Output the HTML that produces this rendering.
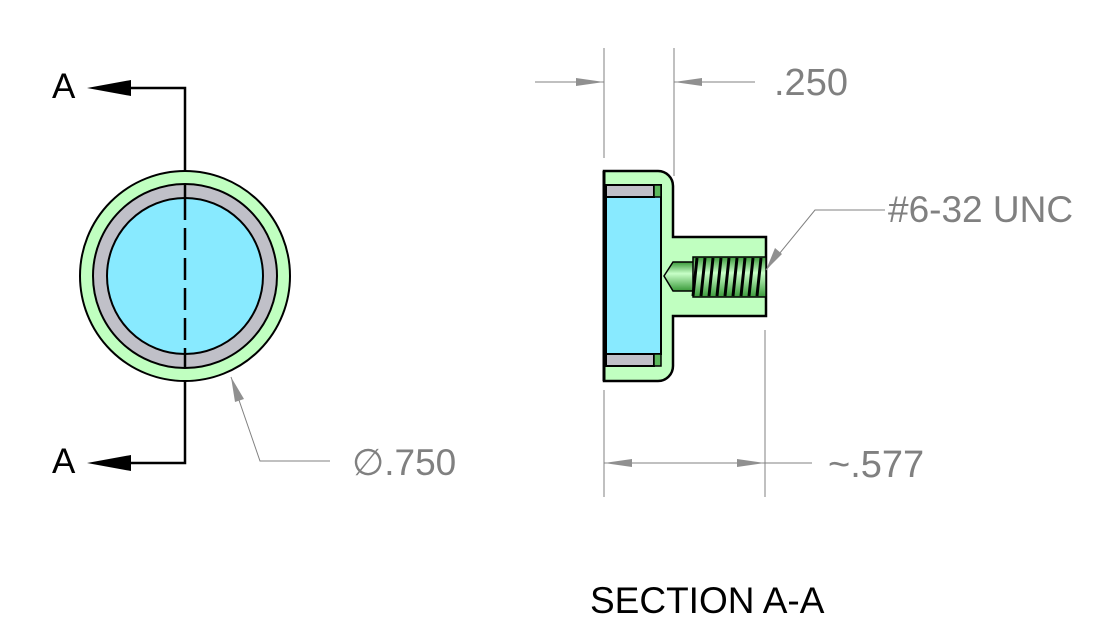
<!DOCTYPE html>
<html><head><style>
html,body{margin:0;padding:0;background:#fff;}
svg{display:block;}
text{font-family:"Liberation Sans",sans-serif;}
</style></head><body>
<svg width="1101" height="644" viewBox="0 0 1101 644" xmlns="http://www.w3.org/2000/svg">
<!-- Left view -->
<circle cx="185" cy="276" r="105" fill="#c0ffc0" stroke="#000" stroke-width="2"/>
<circle cx="185" cy="276" r="92" fill="#c0c0c8" stroke="#000" stroke-width="2"/>
<circle cx="185" cy="276" r="78" fill="#88eaff" stroke="#000" stroke-width="2"/>
<line x1="185" y1="184" x2="185" y2="198" stroke="#000" stroke-width="2.5"/>
<line x1="185" y1="354" x2="185" y2="368" stroke="#000" stroke-width="2.5"/>
<line x1="185" y1="198" x2="185" y2="354" stroke="#000" stroke-width="2.5" stroke-dasharray="22,8"/>
<polyline points="185,171 185,88 120,88" fill="none" stroke="#000" stroke-width="2.5"/>
<polygon points="87,88 131,80 131,96" fill="#000"/>
<polyline points="185,381 185,463 120,463" fill="none" stroke="#000" stroke-width="2.5"/>
<polygon points="87,463 131,455 131,471" fill="#000"/>
<text x="52" y="98" font-size="35">A</text>
<text x="52" y="473" font-size="35">A</text>
<!-- diameter leader -->
<polyline points="231,377 260,461 330,461" fill="none" stroke="#808080" stroke-width="1"/>
<polygon points="231,377 244,399 235,402" fill="#909090"/>
<text x="352" y="475" font-size="37" fill="#808080">∅.750</text>

<!-- Section view -->
<path d="M604,171 H658 A15,15 0 0 1 673,186 V237 H766 V316 H673 V366 A15,15 0 0 1 658,381 H604 Z" fill="#c0ffc0" stroke="#000" stroke-width="2.5"/>
<rect x="606" y="185" width="55" height="169" fill="#88eaff" stroke="#000" stroke-width="2"/>
<rect x="606" y="185" width="48" height="12" fill="#c0c0c8" stroke="#000" stroke-width="2"/>
<rect x="606" y="354" width="48" height="12" fill="#c0c0c8" stroke="#000" stroke-width="2"/>
<rect x="654" y="185" width="7" height="12" fill="#5cb85c" stroke="#000" stroke-width="1.5"/>
<rect x="654" y="354" width="7" height="12" fill="#5cb85c" stroke="#000" stroke-width="1.5"/>
<line x1="604" y1="171" x2="604" y2="381" stroke="#000" stroke-width="3"/>
<!-- thread -->
<defs><linearGradient id="g" x1="0" y1="0" x2="0" y2="1"><stop offset="0" stop-color="#3a9a3a"/><stop offset="0.4" stop-color="#c8ffc8"/><stop offset="1" stop-color="#3a9a3a"/></linearGradient></defs>
<path d="M664,276 L673,262 H766 V291 H673 Z" fill="url(#g)" stroke="#000" stroke-width="1.5"/>
<rect x="693" y="257" width="73" height="40" fill="url(#g)" stroke="#000" stroke-width="1.5"/>
<g stroke="#000" stroke-width="3" fill="none">
<path d="M697,258 L693,296"/><path d="M705,258 L701,296"/><path d="M713,258 L709,296"/><path d="M721,258 L717,296"/><path d="M729,258 L725,296"/><path d="M737,258 L733,296"/><path d="M745,258 L741,296"/><path d="M753,258 L749,296"/><path d="M761,258 L757,296"/>
</g>
<!-- dims -->
<g stroke="#808080" stroke-width="1" fill="none">
<line x1="604" y1="48" x2="604" y2="158"/>
<line x1="674" y1="48" x2="674" y2="176"/>
<line x1="535" y1="82" x2="604" y2="82"/>
<line x1="674" y1="82" x2="755" y2="82"/>
<line x1="604" y1="390" x2="604" y2="497"/>
<line x1="765" y1="330" x2="765" y2="497"/>
<line x1="604" y1="463" x2="812" y2="463"/>
<polyline points="766,270 815,210 885,210"/>
</g>
<g fill="#909090">
<polygon points="604,82 576,78 576,86"/>
<polygon points="674,82 702,78 702,86"/>
<polygon points="604,463 632,459 632,467"/>
<polygon points="765,463 737,459 737,467"/>
<polygon points="766,270 775,248 782,254"/>
</g>
<text x="774" y="95" font-size="38" fill="#808080">.250</text>
<text x="888" y="222" font-size="37" fill="#808080">#6-32 UNC</text>
<text x="828" y="477" font-size="38" fill="#808080">~.577</text>
<text x="590" y="613" font-size="37" fill="#000">SECTION A-A</text>
</svg>
</body></html>
